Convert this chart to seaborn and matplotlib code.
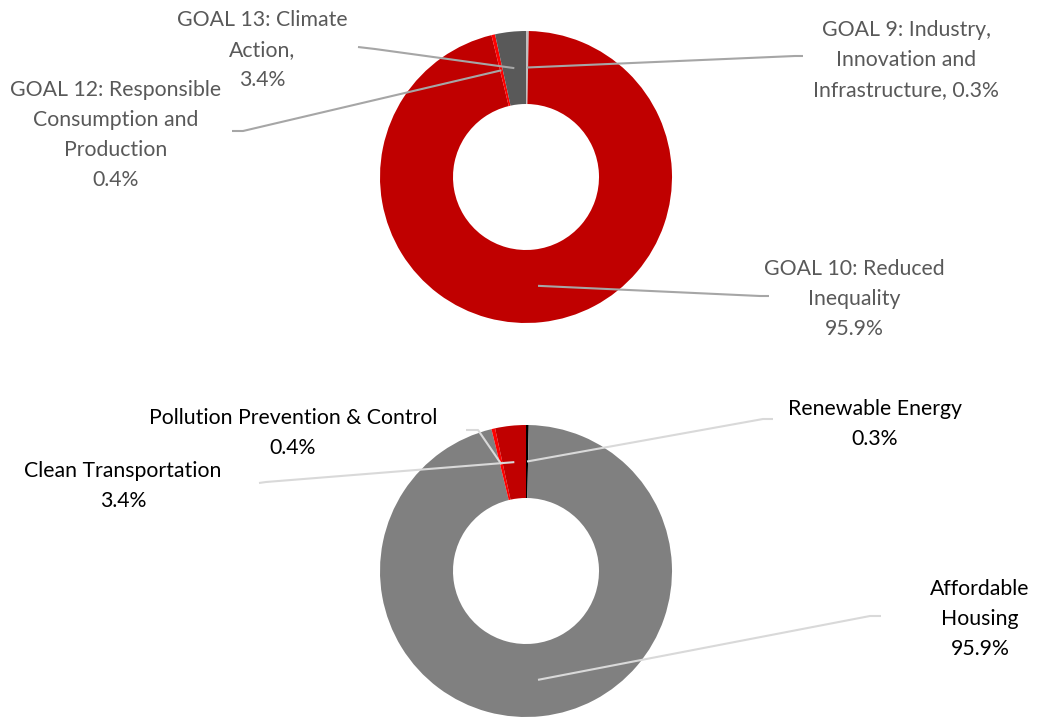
import numpy as np
import seaborn as sns
import matplotlib.pyplot as plt

W, H = 1042, 717

# top donut: SDG goals
goal_names = ["GOAL 9: Industry,\nInnovation and\nInfrastructure", "GOAL 10: Reduced\nInequality",
              "GOAL 12: Responsible\nConsumption and\nProduction", "GOAL 13: Climate\nAction"]
goal_seps = [", ", "\n", "\n", ",\n"]
goal_values = [0.3, 95.9, 0.4, 3.4]
goal_colors = ["#BFBFBF", "#C00000", "#FF0000", "#595959"]

# bottom donut: green bond categories
cat_names = ["Renewable Energy", "Affordable\nHousing", "Pollution Prevention & Control", "Clean Transportation"]
cat_seps = ["\n", "\n", "\n", "\n"]
cat_values = [0.3, 95.9, 0.4, 3.4]
cat_colors = ["#000000", "#808080", "#FF0000", "#C00000"]

# label layout (pixel coords from top-left): text centre, elbow point, line end
goal_label_pos = [(906, 60), (854, 299), (116, 135), (262, 50)]
goal_elbow = [(795, 56), (760, 296), (243, 131), (375, 49)]
goal_end = [(803, 56), (769, 296), (232, 131), (358, 47)]
cat_label_pos = [(875, 424), (980, 619), (293, 433), (123, 486)]
cat_elbow = [(763, 419), (870, 616), (478, 430), (266, 482)]
cat_end = [(773, 419), (881, 616), (466, 430), (259, 483)]

sns.set_theme(style="white")
plt.rcParams["font.family"] = ["Lato", "DejaVu Sans"]

fig = plt.figure(figsize=(W / 100, H / 100), dpi=100)
ax = fig.add_axes([0, 0, 1, 1])


def donut(values, colors, names, seps, center, label_pos, elbows, ends, text_color, line_color):
    cx, cy = center
    r_out, r_in = 146, 73
    ax.pie(values, colors=colors, center=(cx, H - cy), radius=r_out, startangle=90,
           counterclock=False, wedgeprops=dict(width=r_out - r_in, linewidth=0))
    total = sum(values)
    start = 0.0
    r_mid = (r_out + r_in) / 2
    for i, v in enumerate(values):
        mid = (start + v / 2) / total * 2 * np.pi
        start += v
        sx, sy = cx + r_mid * np.sin(mid), cy - r_mid * np.cos(mid)
        xs = [sx, elbows[i][0], ends[i][0]]
        ys = [H - sy, H - elbows[i][1], H - ends[i][1]]
        ax.plot(xs, ys, color=line_color, lw=1.5, solid_capstyle="butt")
        label = f"{names[i]}{seps[i]}{v:.1f}%"
        ax.text(label_pos[i][0], H - label_pos[i][1], label, ha="center", va="center",
                fontsize=15.3, color=text_color, linespacing=1.62)


donut(goal_values, goal_colors, goal_names, goal_seps, (526, 177),
      goal_label_pos, goal_elbow, goal_end, "#595959", "#A6A6A6")
donut(cat_values, cat_colors, cat_names, cat_seps, (526, 571),
      cat_label_pos, cat_elbow, cat_end, "#000000", "#D9D9D9")

ax.set_xlim(0, W)
ax.set_ylim(0, H)
ax.set_aspect("equal")
ax.axis("off")
fig.savefig("out.png", dpi=100)
